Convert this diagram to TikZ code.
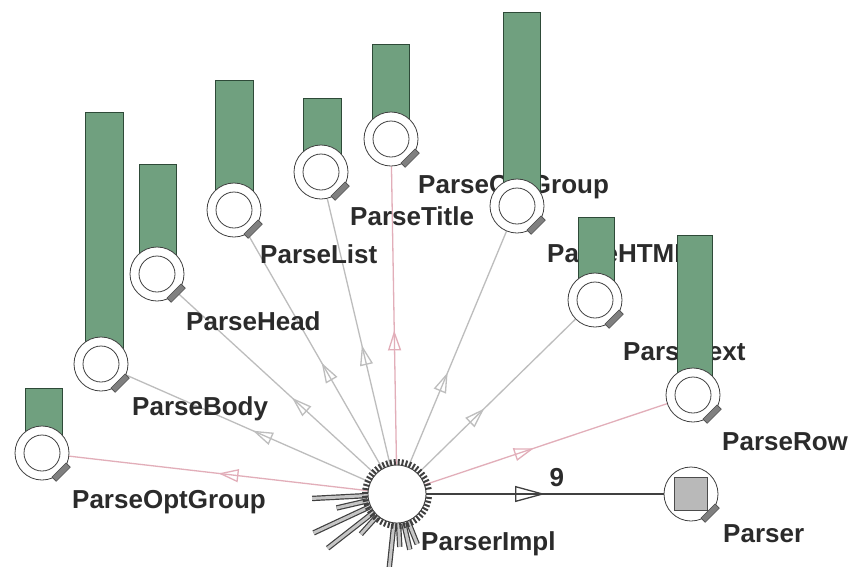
\documentclass[tikz,border=0pt]{standalone}
\usepackage{fontspec}
\setmainfont{Liberation Sans}
\usetikzlibrary{arrows.meta,decorations.markings,calc}
\pgfdeclarelayer{bg}
\pgfdeclarelayer{canvas}
\pgfsetlayers{canvas,bg,main}
\definecolor{barfill}{HTML}{70A07F}
\definecolor{barline}{HTML}{2E4A38}
\definecolor{connc}{HTML}{BDBDBD}
\definecolor{connpink}{HTML}{E2AEB9}
\definecolor{txt}{HTML}{2B2B2B}
\begin{document}
\begin{tikzpicture}[x=1pt,y=-1pt,
 comp/.style={circle,draw=black!75,line width=0.8pt,fill=white,minimum size=54pt,inner sep=0pt,
   path picture={\draw[black!75,line width=0.8pt] (path picture bounding box.center) circle (18pt);}},
 pcomp/.style={circle,draw=black!75,line width=0.8pt,fill=white,minimum size=54pt,inner sep=0pt,
   path picture={\draw[black!70,fill=gray!55,line width=0.9pt] ([shift={(-16.5pt,-16.5pt)}]path picture bounding box.center) rectangle ([shift={(16.5pt,16.5pt)}]path picture bounding box.center);}},
 implnode/.style={circle,draw=black!75,line width=0.9pt,fill=white,minimum size=58pt,inner sep=0pt},
 bar/.style={fill=barfill,draw=barline,line width=0.9pt},
 tagbox/.style={rectangle,fill=black!50,draw=black!70,line width=0.6pt,minimum width=6pt,minimum height=20pt,inner sep=0pt,rotate=-45},
 lbl/.style={font=\bfseries\fontsize{26}{30}\selectfont,text=txt,inner sep=0pt,anchor=base west},
 conn/.style={draw=connc,line width=1.3pt},
 connp/.style={draw=connpink,line width=1.3pt},
 midarrow/.style={postaction={decorate},decoration={markings,mark=at position #1 with {\arrow{Triangle[open,length=20pt,width=13pt]}}}},
 spike/.style={draw=black!75,line width=1.2pt,double=gray!45,double distance=3pt},
 tickmark/.style={draw=black!75,line width=2pt}
]
\begin{pgfonlayer}{canvas}
\fill[white] (0,0) rectangle (850,566);
\end{pgfonlayer}
\useasboundingbox (0,0) rectangle (850,566);

% labels
\node[lbl] (lOptg) at (72,508) {ParseOptGroup};
\node[lbl] (lBody) at (132,415) {ParseBody};
\node[lbl] (lHead) at (186,330) {ParseHead};
\node[lbl] (lList) at (260,263) {ParseList};
\node[lbl] (lTitle) at (350,225) {ParseTitle};
\node[lbl] (lCol) at (418,193) {ParseColGroup};
\node[lbl] (lHtml) at (547,262) {ParseHTML};
\node[lbl] (lText) at (623,360) {ParseText};
\node[lbl] (lRow) at (722,450) {ParseRow};
\node[lbl] (lParser) at (723,542) {Parser};
\node[lbl] (lImpl) at (421,550) {ParserImpl};

% bars
\draw[bar] (25,388) rectangle (62,440);
\draw[bar] (85,112) rectangle (123,350);
\draw[bar] (139,164) rectangle (176,262);
\draw[bar] (215,80) rectangle (253,196);
\draw[bar] (303,98) rectangle (341,160);
\draw[bar] (372,44) rectangle (409,126);
\draw[bar] (503,12) rectangle (540,192);
\draw[bar] (578,217) rectangle (614,286);
\draw[bar] (677,235) rectangle (712,380);

% component circles
\node[comp] (optg) at (42,453) {};
\node[comp] (body) at (101,364) {};
\node[comp] (head) at (157,274) {};
\node[comp] (list) at (234,210) {};
\node[comp] (title) at (321,172) {};
\node[comp] (col) at (391,139) {};
\node[comp] (html) at (517,206) {};
\node[comp] (text) at (595,300) {};
\node[comp] (row) at (693,395) {};
\node[pcomp] (parser) at (691,494) {};

\foreach \n in {optg,body,head,list,title,col,html,text,row,parser}
  \node[tagbox] (t\n) at ($(\n.center)+(45:27)$) {};

% ParserImpl
\coordinate (implc) at (397,494);
\foreach \a/\r in {177/85,167/62,155/92,142/88,132/54,96/74,87/53,77/57,68/54}
  \draw[spike] ($(implc)+(\a:30)$) -- ($(implc)+(\a:\r)$);
\foreach \a in {0,7,...,353}
  \draw[tickmark] ($(implc)+(\a:28)$) -- ($(implc)+(\a:35)$);
\node[implnode] (impl) at (implc) {};

% connectors
\begin{pgfonlayer}{bg}
\draw[connp,midarrow=0.5] (impl) -- (optg);
\draw[conn,midarrow=0.48] (impl) -- (body);
\draw[conn,midarrow=0.42] (impl) -- (head);
\draw[conn,midarrow=0.45] (impl) -- (list);
\draw[conn,midarrow=0.45] (impl) -- (title);
\draw[connp,midarrow=0.45] (impl) -- (col);
\draw[conn,midarrow=0.4] (impl) -- (html);
\draw[conn,midarrow=0.42] (impl) -- (text);
\draw[connp,midarrow=0.45] (impl) -- (row);
\end{pgfonlayer}
\draw[draw=black!75,line width=1.3pt,postaction={decorate},decoration={markings,mark=at position 0.5 with {\arrow{Triangle[open,length=30pt,width=16pt]}}}]
  (impl) -- node[pos=0.55,anchor=south,inner sep=0pt,yshift=7pt,font=\bfseries\fontsize{26}{30}\selectfont,text=txt] (nine) {9} (parser);
\end{tikzpicture}
\end{document}
